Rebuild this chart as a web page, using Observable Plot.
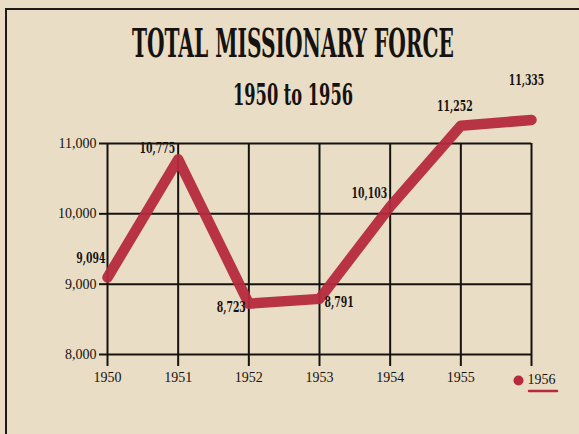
<!DOCTYPE html>
<html>
<head>
<meta charset="utf-8">
<script src="https://cdn.jsdelivr.net/npm/d3@7"></script>
<script src="https://cdn.jsdelivr.net/npm/@observablehq/plot@0.6"></script>
<style>
  html, body { margin: 0; padding: 0; background: #eaddc5; }
  #wrap { position: relative; width: 579px; height: 434px; overflow: hidden; background: #eaddc5; }
  #frame { position: absolute; left: 5px; top: 8px; width: 600px; height: 460px; border-left: 2.5px solid #1d1a17; border-top: 2.5px solid #1d1a17; box-sizing: border-box; }
  #chart { position: absolute; left: 0; top: 0; }
</style>
</head>
<body>
<div id="wrap"><div id="frame"></div><div id="chart"></div></div>
<script>
const title = "TOTAL MISSIONARY FORCE";
const subtitle = "1950 to 1956";
const years = [1950, 1951, 1952, 1953, 1954, 1955, 1956];
const missionaries = [9094, 10775, 8723, 8791, 10103, 11252, 11335];
const valueLabels = ["9,094", "10,775", "8,723", "8,791", "10,103", "11,252", "11,335"];
const yTicks = [8000, 9000, 10000, 11000];
const yTickLabels = ["8,000", "9,000", "10,000", "11,000"];
const xTickLabels = ["1950", "1951", "1952", "1953", "1954", "1955", "1956"];

const data = years.map((year, i) => ({year, value: missionaries[i], label: valueLabels[i]}));
const red = "#b52a3e";
const ink = "#15120f";

// label placement relative to each point (layout, not data)
const place = [
  {dx: -2, dy: -15, anchor: "end"},
  {dx: -3, dy: -6, anchor: "end"},
  {dx: -3, dy: 8, anchor: "end"},
  {dx: 5, dy: 8, anchor: "start"},
  {dx: -3, dy: -9, anchor: "end"},
  {dx: -6, dy: -15, anchor: "middle"},
  {dx: -5, dy: -35, anchor: "middle"}
];

const labelFont = "'DejaVu Serif Condensed', 'DejaVu Serif', serif";

const plot = Plot.plot({
  width: 579,
  height: 434,
  marginLeft: 107,
  marginRight: 48,
  marginTop: 143,
  marginBottom: 80,
  style: {background: "transparent", color: ink, fontFamily: "'Liberation Serif', serif", fontSize: "14px"},
  x: {domain: [1950, 1956], axis: null},
  y: {domain: [8000, 11000], axis: null},
  marks: [
    Plot.ruleY(yTicks, {y: d => d, x1: 1950, x2: 1956, stroke: ink, strokeWidth: 2}),
    Plot.ruleX(years, {x: d => d, y1: 8000, y2: 11000, stroke: ink, strokeWidth: 2}),
    Plot.axisY({ticks: yTicks, tickSize: 8, tickPadding: 3, strokeWidth: 2, stroke: ink, fill: ink,
      tickFormat: d => yTickLabels[yTicks.indexOf(d)], label: null, fontSize: 14}),
    Plot.axisX({ticks: years, tickSize: 12, strokeWidth: 2, stroke: ink, tickFormat: () => "", label: null}),
    Plot.text(years.slice(0, 6), {x: d => d, y: 8000, text: (d, i) => xTickLabels[i], dy: 23, fill: ink, fontSize: 14}),
    Plot.text([years[6]], {x: d => d, y: 8000, text: () => xTickLabels[6], dx: 10, dy: 25, fill: ink, fontSize: 14}),
    Plot.dot([years[6]], {x: d => d, y: 8000, dx: -13, dy: 26, r: 5, fill: red, stroke: "none"}),
    Plot.line(data, {x: "year", y: "value", stroke: red, strokeWidth: 10.5, strokeLinecap: "round", strokeLinejoin: "round", strokeOpacity: 0.95}),
    ...data.map((d, i) => Plot.text([d], {x: "year", y: "value", text: "label", dx: place[i].dx, dy: place[i].dy,
      textAnchor: place[i].anchor, fill: ink, fontFamily: labelFont, fontWeight: "bold", fontSize: 14, className: "vlabel"}))
  ]
});

document.getElementById("chart").appendChild(plot);

const svg = d3.select(plot);

// horizontally squeeze a text element around its anchor point
function squeeze(el, factor) {
  const x = +el.getAttribute("x") || 0, y = +el.getAttribute("y") || 0;
  const prev = el.getAttribute("transform") || "";
  el.setAttribute("x", 0); el.setAttribute("y", 0);
  el.setAttribute("transform", `${prev} translate(${x},${y}) scale(${factor},1)`);
}
svg.selectAll(".vlabel text").each(function() { squeeze(this, 0.74); });

// underline under the final year, placed with the plot's own scales
const xs = plot.scale("x"), ys = plot.scale("y");
const x56 = xs.apply(years[6]), y0 = ys.apply(8000);
svg.append("line")
  .attr("x1", x56 - 2).attr("x2", x56 + 26)
  .attr("y1", y0 + 37).attr("y2", y0 + 37)
  .attr("stroke", red).attr("stroke-width", 2.5).attr("stroke-linecap", "round");

// title and subtitle, squeezed to the reference's condensed width
function heading(str, cx, baseline, size, width) {
  const t = svg.append("text")
    .attr("x", cx).attr("y", baseline)
    .attr("text-anchor", "middle")
    .attr("font-family", labelFont).attr("font-weight", "bold").attr("font-size", size)
    .attr("fill", ink)
    .text(str);
  const w = t.node().getComputedTextLength();
  squeeze(t.node(), width / w);
}
heading(title, 293, 57, 40, 322);
heading(subtitle, 293, 105, 29, 120);
</script>
</body>
</html>
